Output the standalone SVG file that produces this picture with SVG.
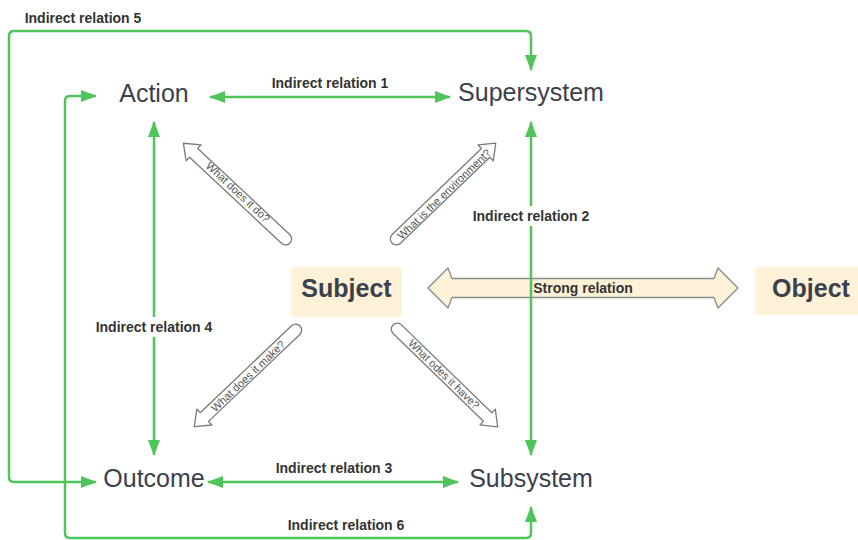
<svg xmlns="http://www.w3.org/2000/svg" width="858" height="540" viewBox="0 0 858 540">
<defs>
<style>
.node{font-family:"Liberation Sans",Arial,sans-serif;font-size:25px;fill:#3b414b;text-anchor:middle}
.bold{font-weight:bold}
.lbl{font-family:"Liberation Sans",Arial,sans-serif;font-size:14px;font-weight:bold;fill:#333;text-anchor:middle;dominant-baseline:central}
.q{font-family:"Liberation Sans",Arial,sans-serif;font-size:11px;fill:#555;text-anchor:middle;dominant-baseline:central}
.g{fill:none;stroke:#4ec45a;stroke-width:2.5;stroke-linejoin:round}
.hollow{fill:#fff;stroke:#7a7a7a;stroke-width:1.3;stroke-linejoin:round}
.box{fill:#fff1d8}
</style>
<marker id="ah" viewBox="0 0 16 12" markerWidth="16" markerHeight="12" refX="15" refY="6" orient="auto-start-reverse" markerUnits="userSpaceOnUse">
<path d="M0,0 L16,6 L0,12 Z" fill="#4ec45a"/>
</marker>
</defs>
<rect width="858" height="540" fill="#fff"/>

<g id="strong-relation">
<path d="M428,288 L448,268 L452,278.5 L714,278.5 L718,268 L738,288 L718,308 L714,297.5 L452,297.5 L448,308 Z" fill="#fff1d8" stroke="#8a8a8a" stroke-width="1.3" stroke-linejoin="round"/>
</g>

<g id="questions">
<g transform="translate(290,243) rotate(-136.9)">
<path class="hollow" d="M6,-6 L132,-6 L132,-11 L146,0 L132,11 L132,6 L6,6 A6,6 0 0 1 6,-6 Z"/>
</g>
<text class="q" transform="translate(238,192) rotate(43.1)">What does it do?</text>
<g transform="translate(392,243) rotate(-43.9)">
<path class="hollow" d="M6,-6 L130,-6 L130,-11 L144,0 L130,11 L130,6 L6,6 A6,6 0 0 1 6,-6 Z"/>
</g>
<text class="q" transform="translate(444,194) rotate(-43.9)">What is the environment?</text>
<g transform="translate(300,326) rotate(136.4)">
<path class="hollow" d="M6,-6 L132,-6 L132,-11 L146,0 L132,11 L132,6 L6,6 A6,6 0 0 1 6,-6 Z"/>
</g>
<text class="q" transform="translate(248,376) rotate(-43.6)">What does it make?</text>
<g transform="translate(393,325) rotate(44.2)">
<path class="hollow" d="M6,-6 L132,-6 L132,-11 L146,0 L132,11 L132,6 L6,6 A6,6 0 0 1 6,-6 Z"/>
</g>
<text class="q" transform="translate(444,374) rotate(44.2)">What odes it have?</text>
</g>

<g id="connectors">
<path class="g" d="M210,97 H450" marker-start="url(#ah)" marker-end="url(#ah)"/>
<path class="g" d="M208,482 H458" marker-start="url(#ah)" marker-end="url(#ah)"/>
<path class="g" d="M154,122 V455" marker-start="url(#ah)" marker-end="url(#ah)"/>
<path class="g" d="M531,122 V455" marker-start="url(#ah)" marker-end="url(#ah)"/>
<path class="g" d="M96,482 H14 Q9,482 9,477 V36 Q9,31 14,31 H526 Q531,31 531,36 V70" marker-start="url(#ah)" marker-end="url(#ah)"/>
<path class="g" d="M96,96 H70 Q65,96 65,101 V533 Q65,538 70,538 H526 Q531,538 531,533 V507" marker-start="url(#ah)" marker-end="url(#ah)"/>
</g>

<g id="labels">
<text class="lbl" x="83" y="18">Indirect relation 5</text>
<text class="lbl" x="330" y="83">Indirect relation 1</text>
<rect x="470" y="206" width="122" height="20" fill="#fff"/>
<text class="lbl" x="531" y="216">Indirect relation 2</text>
<rect x="93" y="317" width="122" height="20" fill="#fff"/>
<text class="lbl" x="154" y="327">Indirect relation 4</text>
<text class="lbl" x="334" y="468">Indirect relation 3</text>
<text class="lbl" x="346" y="525">Indirect relation 6</text>
<text class="lbl" x="583" y="288">Strong relation</text>
</g>

<g id="action"><text class="node" x="154" y="102">Action</text></g>
<g id="supersystem"><text class="node" x="531" y="101">Supersystem</text></g>
<g id="outcome"><text class="node" x="154" y="487">Outcome</text></g>
<g id="subsystem"><text class="node" x="531" y="487">Subsystem</text></g>
<g id="subject"><rect class="box" x="291" y="267" width="111" height="50" rx="4"/><text class="node bold" x="346.5" y="297">Subject</text></g>
<g id="object"><rect class="box" x="755" y="267" width="112" height="48" rx="4"/><text class="node bold" x="811" y="297">Object</text></g>
</svg>
